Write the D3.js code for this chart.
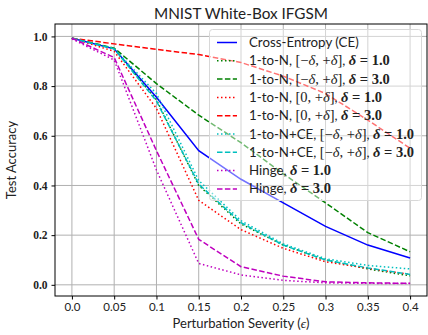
<!DOCTYPE html>
<html><head><meta charset="utf-8">
<script src="https://cdn.jsdelivr.net/npm/d3@7"></script>
<style>
html,body{margin:0;padding:0;background:#fff;}
svg{display:block;}
</style></head>
<body>
<script>
const epsilon = [0, 0.05, 0.1, 0.15, 0.2, 0.25, 0.3, 0.35, 0.4];
const xTicks = [0, 0.05, 0.1, 0.15, 0.2, 0.25, 0.3, 0.35, 0.4];
const xTickLabels = ["0.0","0.05","0.1","0.15","0.2","0.25","0.3","0.35","0.4"];
const yTicks = [0, 0.2, 0.4, 0.6, 0.8, 1.0];
const yTickLabels = ["0.0","0.2","0.4","0.6","0.8","1.0"];

const crossEntropy = [0.993, 0.950, 0.755, 0.540, 0.425, 0.330, 0.235, 0.160, 0.108];
const oneToNSym1   = [0.993, 0.950, 0.745, 0.400, 0.245, 0.160, 0.100, 0.064, 0.036];
const oneToNSym3   = [0.993, 0.953, 0.810, 0.683, 0.572, 0.447, 0.330, 0.210, 0.133];
const oneToNPos1   = [0.993, 0.940, 0.710, 0.340, 0.222, 0.147, 0.093, 0.066, 0.042];
const oneToNPos3   = [0.993, 0.970, 0.948, 0.927, 0.895, 0.840, 0.770, 0.663, 0.550];
const ceSym1       = [0.993, 0.950, 0.770, 0.420, 0.258, 0.165, 0.105, 0.078, 0.064];
const ceSym3       = [0.993, 0.950, 0.740, 0.405, 0.250, 0.160, 0.100, 0.068, 0.042];
const hinge1       = [0.990, 0.905, 0.462, 0.086, 0.040, 0.018, 0.008, 0.006, 0.005];
const hinge3       = [0.993, 0.915, 0.540, 0.183, 0.073, 0.035, 0.012, 0.008, 0.006];

// legend label pieces: [text, style]
const seriesNames = [
  [["Cross-Entropy (CE)","sans"]],
  [["1-to-N, ","sans"],["[−","serif"],["δ","it"],[", +","serif"],["δ","it"],["]","serif"],[", ","sans"],["δ","bit"],[" = 1.0","b"]],
  [["1-to-N, ","sans"],["[−","serif"],["δ","it"],[", +","serif"],["δ","it"],["]","serif"],[", ","sans"],["δ","bit"],[" = 3.0","b"]],
  [["1-to-N, ","sans"],["[0, +","serif"],["δ","it"],["]","serif"],[", ","sans"],["δ","bit"],[" = 1.0","b"]],
  [["1-to-N, ","sans"],["[0, +","serif"],["δ","it"],["]","serif"],[", ","sans"],["δ","bit"],[" = 3.0","b"]],
  [["1-to-N+CE, ","sans"],["[−","serif"],["δ","it"],[", +","serif"],["δ","it"],["]","serif"],[", ","sans"],["δ","bit"],[" = 1.0","b"]],
  [["1-to-N+CE, ","sans"],["[−","serif"],["δ","it"],[", +","serif"],["δ","it"],["]","serif"],[", ","sans"],["δ","bit"],[" = 3.0","b"]],
  [["Hinge, ","sans"],["δ","bit"],[" = 1.0","b"]],
  [["Hinge, ","sans"],["δ","bit"],[" = 3.0","b"]]
];
const seriesValues = [crossEntropy, oneToNSym1, oneToNSym3, oneToNPos1, oneToNPos3, ceSym1, ceSym3, hinge1, hinge3];
const seriesColors = ["#0000ff","#008000","#008000","#ff0000","#ff0000","#00bfbf","#00bfbf","#bf00bf","#bf00bf"];
const seriesStyles = ["solid","dotted","dashed","dotted","dashed","dotted","dashed","dotted","dashed"];

const W = 428, H = 335;
const L = 55, R = 427, T = 24, B = 296;
const SANS = "Lato, 'DejaVu Sans', sans-serif";
const SERIF = "'Liberation Serif', 'DejaVu Serif', serif";

const svg = d3.select("body").append("svg").attr("width", W).attr("height", H);

const x = d3.scaleLinear().domain([-0.02, 0.42]).range([L, R]);
const y = d3.scaleLinear().domain([-0.045, 1.05]).range([B, T]);

const dashFor = s => s === "dashed" ? "5.5,2.4" : s === "dotted" ? "1.5,2.5" : null;

// grid
const grid = svg.append("g");
grid.selectAll(".gx").data(xTicks).enter().append("line")
  .attr("x1", d => x(d)).attr("x2", d => x(d)).attr("y1", T).attr("y2", B)
  .attr("stroke", "#b0b0b0").attr("stroke-width", 1);
grid.selectAll(".gy").data(yTicks).enter().append("line")
  .attr("y1", d => y(d)).attr("y2", d => y(d)).attr("x1", L).attr("x2", R)
  .attr("stroke", "#b0b0b0").attr("stroke-width", 1);

// lines
const lineGen = d3.line().x((d, i) => x(epsilon[i])).y(d => y(d));
seriesValues.forEach((vals, k) => {
  svg.append("path").datum(vals)
    .attr("d", lineGen)
    .attr("fill", "none")
    .attr("stroke", seriesColors[k])
    .attr("stroke-width", 1.5)
    .attr("stroke-dasharray", dashFor(seriesStyles[k]));
});

// axes
const xAxis = d3.axisBottom(x).tickValues(xTicks).tickFormat((d, i) => xTickLabels[i]).tickSize(3.5).tickPadding(3.5);
const gx = svg.append("g").attr("transform", `translate(0,${B})`).call(xAxis);
gx.select(".domain").remove();
gx.selectAll("text").attr("font-family", SANS).attr("font-size", 11.5).attr("fill", "#222");

const yAxis = d3.axisLeft(y).tickValues(yTicks).tickFormat((d, i) => yTickLabels[i]).tickSize(3.5).tickPadding(4);
const gy = svg.append("g").attr("transform", `translate(${L},0)`).call(yAxis);
gy.select(".domain").remove();
gy.selectAll("text").attr("font-family", SERIF).attr("font-weight", "bold").attr("font-size", 11.5).attr("fill", "#222");

// frame
svg.append("rect").attr("x", L).attr("y", T).attr("width", R - L).attr("height", B - T)
  .attr("fill", "none").attr("stroke", "#000").attr("stroke-width", 1);

// legend
const lg = svg.append("g");
lg.append("rect").attr("x", 209.5).attr("y", 29.5).attr("width", 212).attr("height", 171).attr("rx", 3)
  .attr("fill", "#fff").attr("fill-opacity", 0.45).attr("stroke", "#d8d8d8").attr("stroke-width", 1);
seriesNames.forEach((parts, k) => {
  const cy = 42.5 + k * 18.3;
  lg.append("line").attr("x1", 217).attr("x2", 237).attr("y1", cy).attr("y2", cy)
    .attr("stroke", seriesColors[k]).attr("stroke-width", 1.5)
    .attr("stroke-dasharray", dashFor(seriesStyles[k]));
  const t = lg.append("text").attr("x", 249).attr("y", cy + 4.5).attr("font-size", 13.3).attr("fill", "#222");
  parts.forEach(([txt, st]) => {
    const ts = t.append("tspan").text(txt).style("white-space", "pre");
    if (st === "sans") ts.attr("font-family", SANS);
    else {
      ts.attr("font-family", SERIF).attr("font-size", 14.5);
      if (st === "it" || st === "bit") ts.attr("font-style", "italic");
      if (st === "b" || st === "bit") ts.attr("font-weight", "bold");
    }
  });
});

// title & labels
svg.append("text").attr("x", (L + R) / 2).attr("y", 19).attr("text-anchor", "middle")
  .attr("font-family", SANS).attr("font-size", 15.3).attr("fill", "#222").text("MNIST White-Box IFGSM");

const xl = svg.append("text").attr("x", (L + R) / 2).attr("y", 328).attr("text-anchor", "middle")
  .attr("font-family", SANS).attr("font-size", 13).attr("fill", "#222");
xl.append("tspan").text("Perturbation Severity (");
xl.append("tspan").attr("font-family", SERIF).attr("font-style", "italic").text("ϵ");
xl.append("tspan").text(")");

svg.append("text").attr("transform", `translate(16,${(T + B) / 2}) rotate(-90)`).attr("text-anchor", "middle")
  .attr("font-family", SANS).attr("font-size", 13).attr("fill", "#222").text("Test Accuracy");
</script>
</body></html>
